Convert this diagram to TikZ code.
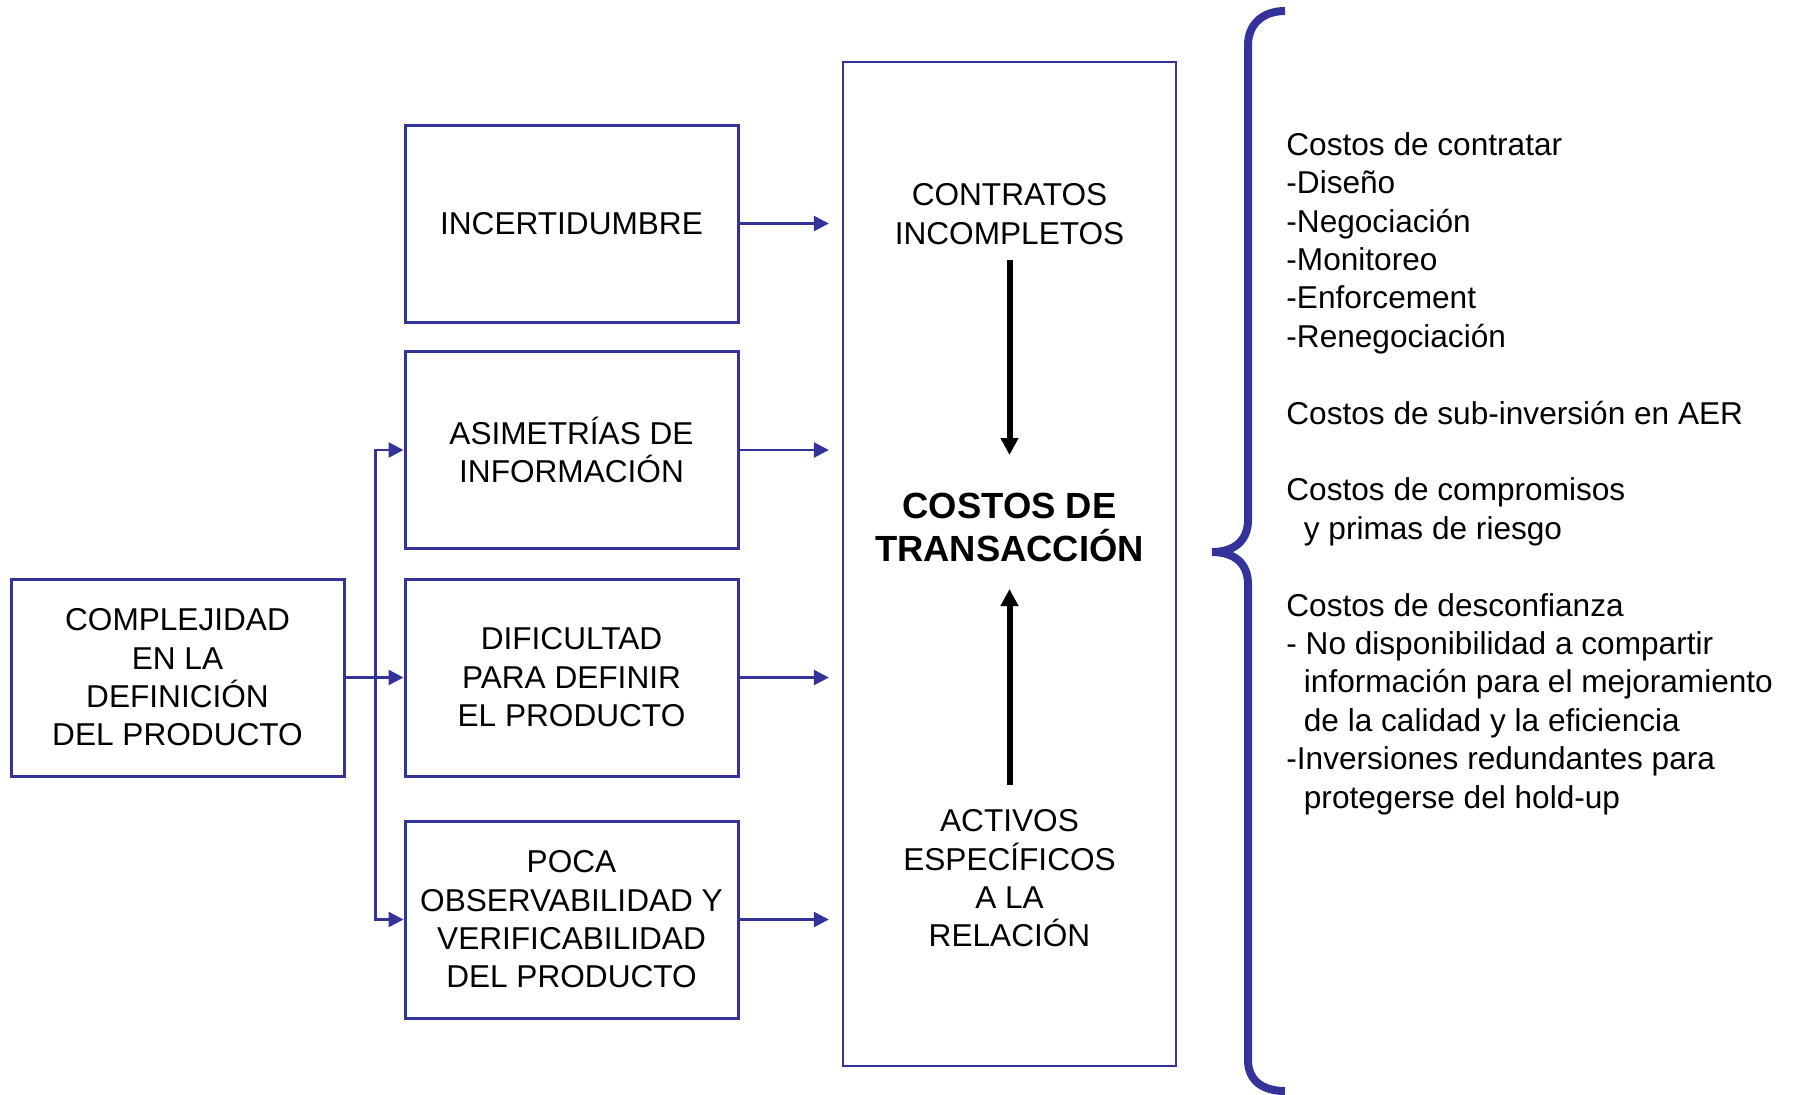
\documentclass[tikz,border=0pt]{standalone}
\usepackage{fontspec}
\setmainfont{Liberation Sans}
\usepackage{tikz}
\usetikzlibrary{arrows.meta}
\definecolor{azul}{RGB}{51,51,153}

\begin{document}
\begin{tikzpicture}[x = 0.5pt, y = -0.5pt,
        caja/.style = {draw = azul, line width = 1.5pt, minimum width = 166.5pt, minimum height = 98.5pt, align = center, inner sep = 0pt, font = \fontsize{15.8}{19.2}\selectfont},
        texto/.style = {align = center, inner sep = 0pt, font = \fontsize{15.8}{19.2}\selectfont},
        flecha/.style = {draw = azul, line width = 1.3pt, -{Triangle[length = 7.5pt, width = 7.5pt]}},
        negra/.style = {draw = black, line width = 3pt, -{Triangle[length = 8.5pt, width = 8.5pt]}}]
        \useasboundingbox (0,0) rectangle (1793,1094);
        \node (incert)[caja] at (571.5,223.5) {INCERTIDUMBRE};
        \node (asim)[caja] at (571.5,450) {ASIMETRÍAS DE\\INFORMACIÓN};
        \node (dific)[caja] at (571.5,677.5) {DIFICULTAD\\PARA DEFINIR\\EL PRODUCTO};
        \node (poca)[caja] at (571.5,919.5) {POCA\\OBSERVABILIDAD Y\\VERIFICABILIDAD\\DEL PRODUCTO};
        \node (complej)[caja] at (177.5,677.5) {COMPLEJIDAD\\EN LA\\DEFINICIÓN\\DEL PRODUCTO};
        \node (marco)[draw = azul, line width = 1.2pt, minimum width = 166.5pt, minimum height = 502pt] at (1009.5,564) {};
        \node (contratos)[texto] at (1009.5,214) {CONTRATOS\\INCOMPLETOS};
        \node (costos)[texto, font = \bfseries\fontsize{18.2}{21.5}\selectfont] at (1009.5,527) {COSTOS DE\\TRANSACCIÓN};
        \node (activos)[texto] at (1009.5,878.5) {ACTIVOS\\ESPECÍFICOS\\A LA\\RELACIÓN};
        \node (lista)[anchor = north west, align = left, inner sep = 0pt, font = \fontsize{15.8}{19.2}\selectfont] at (1286,132) {Costos de contratar\\
        -Diseño\\
        -Negociación\\
        -Monitoreo\\
        -Enforcement\\
        -Renegociación\\[19.2pt]
        Costos de sub-inversión en AER\\[19.2pt]
        Costos de compromisos\\
        \hspace*{8.75pt}y primas de riesgo\\[19.2pt]
        Costos de desconfianza\\
        - No disponibilidad a compartir\\
        \hspace*{8.75pt}información para el mejoramiento\\
        \hspace*{8.75pt}de la calidad y la eficiencia\\
        -Inversiones redundantes para\\
        \hspace*{8.75pt}protegerse del hold-up};
        \coordinate (rama) at ([xshift = 15pt]complej.east);
        \path (incert) edge[flecha, shorten >= 6.5pt] (incert -| marco.west);
        \path (asim) edge[flecha, shorten >= 6.5pt] (asim -| marco.west);
        \path (dific) edge[flecha, shorten >= 6.5pt] (dific -| marco.west);
        \path (poca) edge[flecha, shorten >= 6.5pt] (poca -| marco.west);
        \path (complej) edge[flecha] (dific);
        \draw[flecha] (complej.east) -- (rama) |- (asim);
        \draw[flecha] (complej.east) -- (rama) |- (poca);
        \path (contratos.center) edge[negra, shorten <= 23pt, shorten >= 36pt] (costos.center);
        \path (activos.center) edge[negra, shorten <= 46.75pt, shorten >= 31pt] (costos.center);
        \draw[azul, line width = 4pt] (1285,11) .. controls (1262,11) and (1248,25) .. (1248,45) -- (1248,520)
            .. controls (1248,540) and (1235,552) .. (1212,552) .. controls (1235,552) and (1248,564) .. (1248,584)
            -- (1248,1060) .. controls (1248,1080) and (1262,1091) .. (1285,1091);
    \end{tikzpicture}
\end{document}
